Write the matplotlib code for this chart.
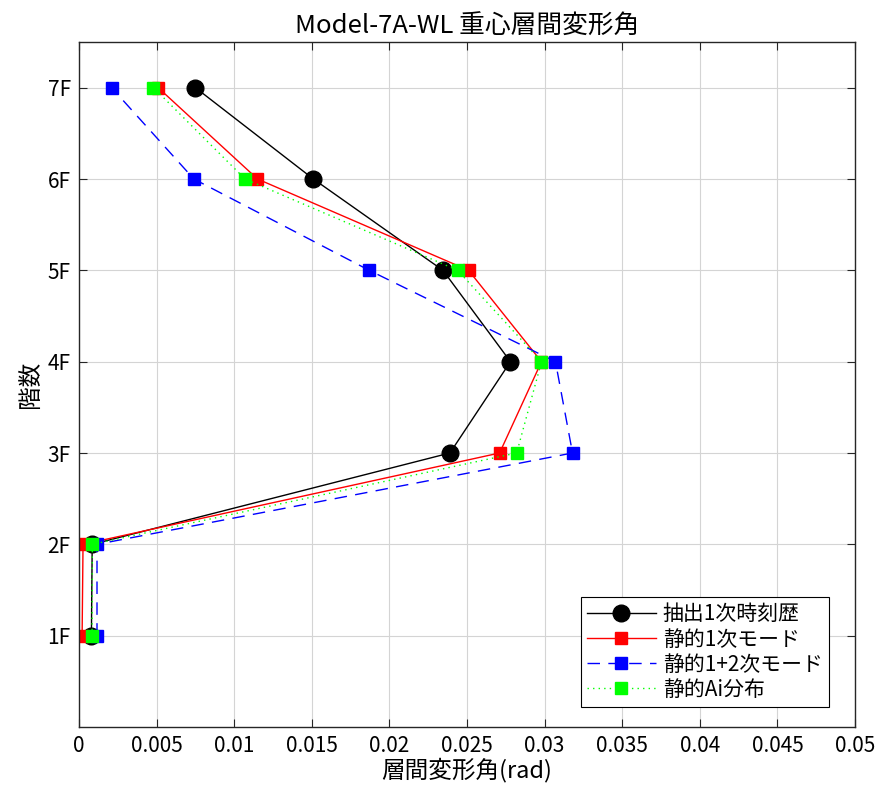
import matplotlib
matplotlib.use("Agg")
import matplotlib.pyplot as plt

plt.rcParams['font.family'] = ['Noto Sans CJK JP', 'DejaVu Sans']

floors = [1, 2, 3, 4, 5, 6, 7]
floor_labels = ['1F', '2F', '3F', '4F', '5F', '6F', '7F']
time_history = [0.0008, 0.00085, 0.0239, 0.0278, 0.02345, 0.0151, 0.0075]
static_mode1 = [0.0002, 0.00026, 0.0271, 0.0298, 0.0251, 0.0115, 0.0051]
static_mode12 = [0.00116, 0.00116, 0.0318, 0.0307, 0.0187, 0.0074, 0.0021]
static_ai = [0.00084, 0.00086, 0.0282, 0.0298, 0.0244, 0.0107, 0.0048]
xticks = [0, 0.005, 0.01, 0.015, 0.02, 0.025, 0.03, 0.035, 0.04, 0.045, 0.05]
xtick_labels = ['0', '0.005', '0.01', '0.015', '0.02', '0.025', '0.03', '0.035', '0.04', '0.045', '0.05']

fig = plt.figure(figsize=(8.77, 7.96), dpi=100)
ax = fig.add_axes([79/877, 1-727/796, (855-79)/877, (727-42)/796])

ax.plot(time_history, floors, color='black', lw=1, marker='o', markersize=12,
        label='抽出1次時刻歴')
ax.plot(static_mode1, floors, color='red', lw=1, marker='s', markersize=9,
        label='静的1次モード')
ax.plot(static_mode12, floors, color='blue', lw=1, dashes=(9, 6), marker='s', markersize=9,
        label='静的1+2次モード')
ax.plot(static_ai, floors, color='#00ff00', lw=1, dashes=(1, 3), marker='s', markersize=9,
        label='静的Ai分布')

ax.set_xlim(0, 0.05)
ax.set_ylim(0, 7.5)
ax.set_xticks(xticks)
ax.set_xticklabels(xtick_labels)
ax.set_yticks(floors)
ax.set_yticklabels(floor_labels)
ax.tick_params(direction='in', top=True, right=True, labelsize=15, length=6,
               color='#262626', pad=6)
ax.grid(True, color='#d4d4d4', lw=0.8)
ax.set_axisbelow(True)
for s in ax.spines.values():
    s.set_color('#262626')
    s.set_linewidth(1.0)

ax.set_title('Model-7A-WL 重心層間変形角', fontsize=18.5, pad=6)
ax.set_xlabel('層間変形角(rad)', fontsize=17, labelpad=0)
ax.set_ylabel('階数', fontsize=17, labelpad=4)

leg = ax.legend(loc='lower right', bbox_to_anchor=((829-79)/776, (727-707)/685),
                fontsize=15, handlelength=3.3, handletextpad=0.35, frameon=True,
                fancybox=False, edgecolor='black', framealpha=1,
                borderaxespad=0, borderpad=0.3, labelspacing=0.15)
leg.get_frame().set_linewidth(0.8)

fig.savefig('out.png', dpi=100)
